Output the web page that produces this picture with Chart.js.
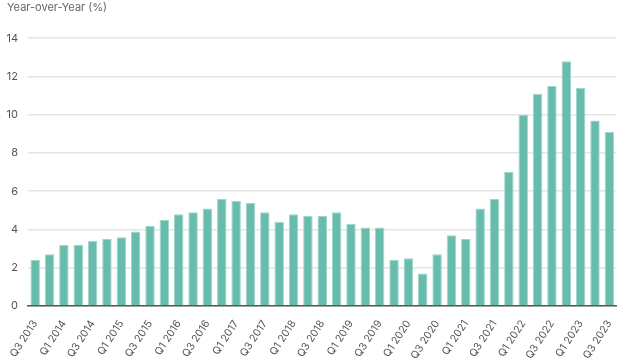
<!DOCTYPE html>
<html>
<head>
<meta charset="utf-8">
<script src="https://cdn.jsdelivr.net/npm/chart.js@4"></script>
<style>
  html, body { margin: 0; padding: 0; background: #fff; }
  canvas { display: block; }
</style>
</head>
<body>
<canvas id="myChart" width="624" height="362"></canvas>
<script>
// quarters Q3 2013 .. Q3 2023
var quarters = [
  'Q3 2013', 'Q4 2013',
  'Q1 2014', 'Q2 2014', 'Q3 2014', 'Q4 2014',
  'Q1 2015', 'Q2 2015', 'Q3 2015', 'Q4 2015',
  'Q1 2016', 'Q2 2016', 'Q3 2016', 'Q4 2016',
  'Q1 2017', 'Q2 2017', 'Q3 2017', 'Q4 2017',
  'Q1 2018', 'Q2 2018', 'Q3 2018', 'Q4 2018',
  'Q1 2019', 'Q2 2019', 'Q3 2019', 'Q4 2019',
  'Q1 2020', 'Q2 2020', 'Q3 2020', 'Q4 2020',
  'Q1 2021', 'Q2 2021', 'Q3 2021', 'Q4 2021',
  'Q1 2022', 'Q2 2022', 'Q3 2022', 'Q4 2022',
  'Q1 2023', 'Q2 2023', 'Q3 2023'
];

var yoyValues = [
  2.4, 2.7,
  3.2, 3.2, 3.4, 3.5,
  3.6, 3.9, 4.2, 4.5,
  4.8, 4.9, 5.1, 5.6,
  5.5, 5.4, 4.9, 4.4,
  4.8, 4.7, 4.7, 4.9,
  4.3, 4.1, 4.1, 2.4,
  2.5, 1.7, 2.7, 3.7,
  3.5, 5.1, 5.6, 7.0,
  10.0, 11.1, 11.5, 12.8,
  11.4, 9.7, 9.1
];

var yTicks = [0, 2, 4, 6, 8, 10, 12, 14];
var yTitle = 'Year-over-Year (%)';

var ctx = document.getElementById('myChart');

new Chart(ctx, {
  type: 'bar',
  data: {
    labels: quarters,
    datasets: [{
      label: yTitle,
      data: yoyValues,
      backgroundColor: '#67bcab',
      borderColor: '#9fd6ca',
      borderWidth: 1,
      barPercentage: 0.66,
      categoryPercentage: 1
    }]
  },
  options: {
    responsive: false,
    animation: false,
    layout: { padding: { left: 7, right: 7, top: 0, bottom: 0 } },
    plugins: {
      legend: { display: false },
      tooltip: { enabled: false },
      title: {
        display: true,
        text: yTitle,
        align: 'start',
        color: '#666',
        font: { family: 'Inter', size: 11, weight: 'normal' },
        padding: { top: 1, bottom: 24 }
      }
    },
    scales: {
      x: {
        grid: { display: false },
        border: { display: true, color: '#555', width: 1.5 },
        ticks: {
          autoSkip: false,
          minRotation: 57,
          maxRotation: 57,
          color: '#555',
          padding: 4,
          font: { family: 'Inter', size: 10.5 },
          callback: function (value, index) {
            return index % 2 === 0 ? quarters[index] : '';
          }
        },
        afterFit: function (scale) { scale.height = 56; }
      },
      y: {
        min: yTicks[0],
        max: yTicks[yTicks.length - 1],
        border: { display: false },
        grid: { color: '#e2e6e6', lineWidth: 1.5, drawTicks: false },
        afterBuildTicks: function (scale) {
          scale.ticks = yTicks.map(function (v) { return { value: v }; });
        },
        ticks: {
          color: '#555',
          padding: 10,
          font: { family: 'Inter', size: 11 }
        },
        afterFit: function (scale) { scale.width = 21; }
      }
    }
  }
});
</script>
</body>
</html>
